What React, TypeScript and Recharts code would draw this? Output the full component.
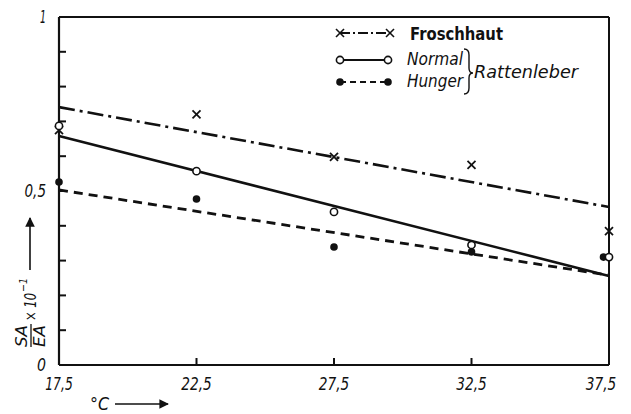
import { ComposedChart, Line, Scatter, XAxis, YAxis, ReferenceLine } from 'recharts';

// measured temperatures (°C)
const temps = [17.5, 22.5, 27.5, 32.5, 37.5];
// the last Hunger point sits a little left of the axis in the original
const hungerTemps = [17.5, 22.5, 27.5, 32.5, 37.3];

// SA/EA x 10^-1
const froschhaut = [0.675, 0.72, 0.598, 0.575, 0.385];
const normal = [0.687, 0.557, 0.44, 0.345, 0.31];
const hunger = [0.526, 0.477, 0.339, 0.325, 0.31];

// fitted straight lines, endpoints
const fitTemps = [17.5, 37.5];
const froschhautFit = [0.741, 0.454];
const normalFit = [0.658, 0.256];
const hungerFit = [0.503, 0.258];

const xTicks = [17.5, 22.5, 27.5, 32.5, 37.5];
const yTicks = [0, 0.1, 0.2, 0.3, 0.4, 0.5, 0.6, 0.7, 0.8, 0.9, 1];
const yLabels: Record<string, string> = { '0': '0', '0.5': '0,5', '1': '1' };

const toPoints = (xs: number[], ys: number[]) => xs.map((x, i) => ({ x, y: ys[i] }));

const FONT = "'DejaVu Sans', sans-serif";
const INK = '#111';
const TICK = 7;

// rough width of a tick label so the narrow print face can be imitated
const labelWidth = (s: string) =>
  s.split('').reduce((w, c) => w + (c === ',' ? 3.5 : c === '1' ? 6 : 9), 0);

const Cross = (props: any) => {
  const { cx, cy } = props;
  return (
    <g stroke={INK} strokeWidth={1.8}>
      <line x1={cx - 4} y1={cy - 4} x2={cx + 4} y2={cy + 4} />
      <line x1={cx - 4} y1={cy + 4} x2={cx + 4} y2={cy - 4} />
    </g>
  );
};
const OpenDot = (props: any) => (
  <circle cx={props.cx} cy={props.cy} r={3.6} fill="#fff" stroke={INK} strokeWidth={1.6} />
);
const FilledDot = (props: any) => <circle cx={props.cx} cy={props.cy} r={3.8} fill={INK} />;

// tickSize is negative (marks point inward), so the label anchor sits TICK px inside
const YTick = (props: any) => {
  const { x, y, payload } = props;
  const label = yLabels[String(payload.value)];
  if (!label) return null;
  return (
    <text
      x={x - TICK - 11}
      y={y + 6}
      textAnchor="end"
      fontFamily={FONT}
      fontStyle="italic"
      fontSize={18}
      fill={INK}
      textLength={labelWidth(label)}
      lengthAdjust="spacingAndGlyphs"
    >
      {label}
    </text>
  );
};

const XTick = (props: any) => {
  const { x, y, payload } = props;
  const label = String(payload.value).replace('.', ',');
  const last = payload.value === xTicks[xTicks.length - 1];
  return (
    <text
      x={last ? x - 8 : x}
      y={y + TICK + 23}
      textAnchor="middle"
      fontFamily={FONT}
      fontStyle="italic"
      fontSize={18}
      fill={INK}
      textLength={labelWidth(label)}
      lengthAdjust="spacingAndGlyphs"
    >
      {label}
    </text>
  );
};

const Annotations = () => (
  <svg width={631} height={414} style={{ position: 'absolute', left: 0, top: 0, pointerEvents: 'none' }}>
    <defs>
      <marker id="arrow" viewBox="0 0 10 10" refX="9" refY="5" markerWidth="6" markerHeight="6" orient="auto">
        <path d="M0,0 L10,5 L0,10 z" fill={INK} />
      </marker>
    </defs>
    {/* legend */}
    <g stroke={INK} strokeWidth={2}>
      <line x1={340} y1={33} x2={390} y2={33} strokeDasharray="10 3 2 3" />
      <line x1={336} y1={29} x2={344} y2={37} strokeWidth={1.6} />
      <line x1={336} y1={37} x2={344} y2={29} strokeWidth={1.6} />
      <line x1={386} y1={29} x2={394} y2={37} strokeWidth={1.6} />
      <line x1={386} y1={37} x2={394} y2={29} strokeWidth={1.6} />
      <line x1={340} y1={60} x2={388} y2={60} />
      <line x1={340} y1={82} x2={388} y2={82} strokeDasharray="6 4" />
    </g>
    <OpenDot cx={340} cy={60} />
    <OpenDot cx={388} cy={60} />
    <FilledDot cx={340} cy={82} />
    <FilledDot cx={388} cy={82} />
    <g fontFamily={FONT} fill={INK} fontSize={18}>
      <text x={410} y={40} fontWeight="bold" textLength={93} lengthAdjust="spacingAndGlyphs">Froschhaut</text>
      <text x={407} y={65} fontStyle="italic" textLength={56} lengthAdjust="spacingAndGlyphs">Normal</text>
      <text x={407} y={87} fontStyle="italic" textLength={56} lengthAdjust="spacingAndGlyphs">Hunger</text>
      <text x={474} y={78} fontStyle="italic" textLength={104} lengthAdjust="spacingAndGlyphs">Rattenleber</text>
    </g>
    <path
      d="M464,49 Q469,49 469,55 L469,68 Q469,73 473,73 Q469,73 469,78 L469,88 Q469,94 464,94"
      fill="none"
      stroke={INK}
      strokeWidth={1.4}
    />
    {/* x axis title */}
    <text x={90} y={410} fontFamily={FONT} fontStyle="italic" fontSize={17} fill={INK} textLength={19} lengthAdjust="spacingAndGlyphs">°C</text>
    <line x1={115} y1={404} x2={168} y2={404} stroke={INK} strokeWidth={1.6} markerEnd="url(#arrow)" />
    {/* y axis title */}
    <g transform="translate(30,347) rotate(-90)" fontFamily={FONT} fontStyle="italic" fill={INK}>
      <text x={0} y={-3} fontSize={16} textLength={22} lengthAdjust="spacingAndGlyphs">SA</text>
      <line x1={0} y1={1} x2={23} y2={1} stroke={INK} strokeWidth={1.3} />
      <text x={0} y={15} fontSize={16} textLength={22} lengthAdjust="spacingAndGlyphs">EA</text>
      <text x={26} y={6} fontSize={15} textLength={28} lengthAdjust="spacingAndGlyphs">× 10</text>
      <text x={55} y={-3} fontSize={11} textLength={14} lengthAdjust="spacingAndGlyphs">−1</text>
      <line x1={77} y1={0} x2={129} y2={0} stroke={INK} strokeWidth={1.6} markerEnd="url(#arrow)" />
    </g>
  </svg>
);

const xMax = xTicks[xTicks.length - 1];

export default function App() {
  return (
    <div style={{ position: 'absolute', left: 0, top: 0, width: 631, height: 414, background: '#fff' }}>
      <ComposedChart width={631} height={414} margin={{ top: 17, right: 22, left: 0, bottom: 0 }}>
        <XAxis
          type="number"
          dataKey="x"
          domain={[xTicks[0], xMax]}
          ticks={xTicks}
          interval={0}
          tick={<XTick />}
          tickSize={-TICK}
          tickLine={{ stroke: INK, strokeWidth: 2 }}
          height={49}
          axisLine={{ stroke: INK, strokeWidth: 2.2 }}
        />
        <YAxis
          type="number"
          domain={[0, 1]}
          ticks={yTicks}
          interval={0}
          tick={<YTick />}
          tickSize={-TICK}
          tickLine={{ stroke: INK, strokeWidth: 2 }}
          width={59}
          axisLine={{ stroke: INK, strokeWidth: 2.2 }}
        />
        <ReferenceLine y={1} stroke={INK} strokeWidth={2} />
        <ReferenceLine x={xMax} stroke={INK} strokeWidth={2} />
        <Line
          data={toPoints(fitTemps, froschhautFit)}
          dataKey="y"
          stroke={INK}
          strokeWidth={2.6}
          strokeDasharray="16 5 3 5"
          dot={false}
          isAnimationActive={false}
        />
        <Line
          data={toPoints(fitTemps, normalFit)}
          dataKey="y"
          stroke={INK}
          strokeWidth={2.6}
          dot={false}
          isAnimationActive={false}
        />
        <Line
          data={toPoints(fitTemps, hungerFit)}
          dataKey="y"
          stroke={INK}
          strokeWidth={2.8}
          strokeDasharray="9 6"
          dot={false}
          isAnimationActive={false}
        />
        <Scatter data={toPoints(temps, froschhaut)} dataKey="y" shape={<Cross />} isAnimationActive={false} />
        <Scatter data={toPoints(hungerTemps, hunger)} dataKey="y" shape={<FilledDot />} isAnimationActive={false} />
        <Scatter data={toPoints(temps, normal)} dataKey="y" shape={<OpenDot />} isAnimationActive={false} />
      </ComposedChart>
      <Annotations />
    </div>
  );
}
